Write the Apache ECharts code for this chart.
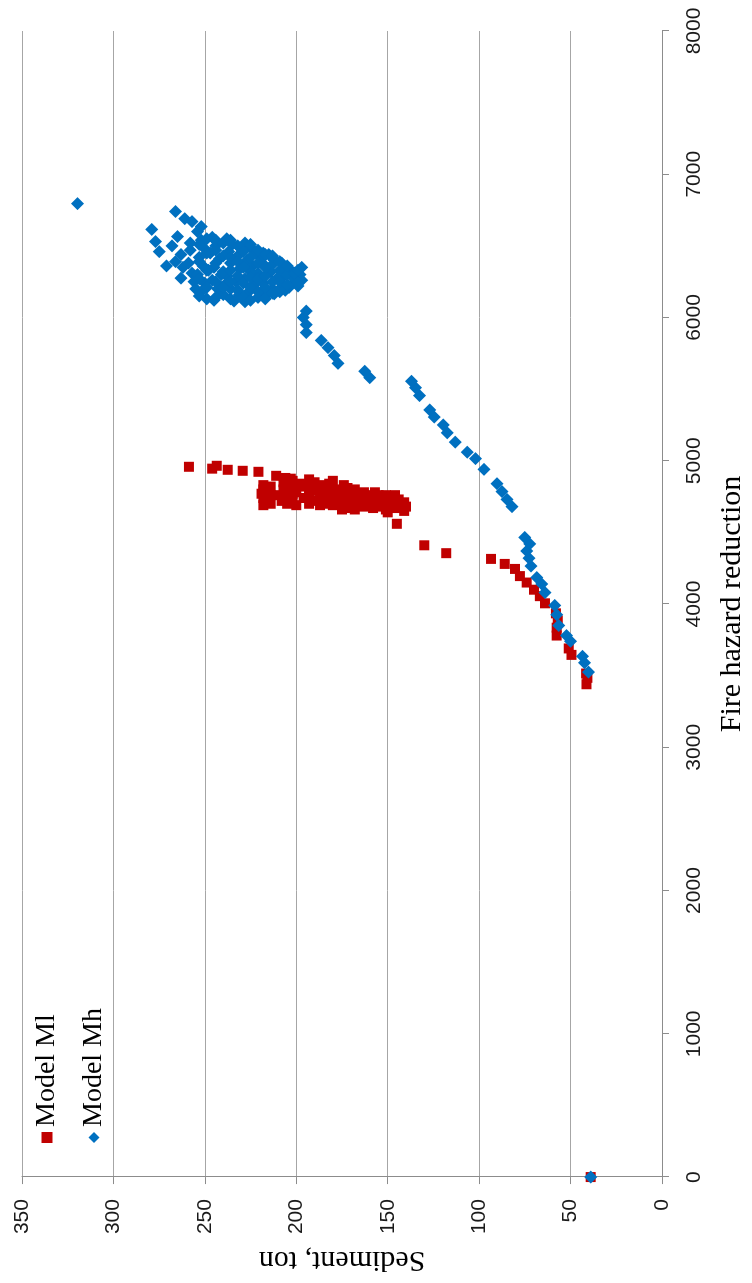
<!DOCTYPE html>
<html>
<head>
<meta charset="utf-8">
<script src="https://cdn.jsdelivr.net/npm/echarts@6/dist/echarts.min.js"></script>
<style>
  html, body { margin: 0; padding: 0; background: #ffffff; overflow: hidden; }
  #wrap { width: 752px; height: 1283px; position: relative; overflow: hidden; }
  /* the chart is laid out landscape and turned a quarter turn counter-clockwise */
  #chart {
    position: absolute; left: 0; top: 0;
    width: 1283px; height: 752px;
    transform-origin: 0 0;
    transform: translateY(1283px) rotate(-90deg);
  }
</style>
</head>
<body>
<div id="wrap"><div id="chart"></div></div>
<script>
// Axis ticks
const fireTicks = [0, 1000, 2000, 3000, 4000, 5000, 6000, 7000, 8000];
const sedimentTicks = [0, 50, 100, 150, 200, 250, 300, 350];

// Model Ml: sediment (ton) and fire hazard reduction
const mlSediment = [
  39,
  41.3, 40.8, 41.5, 49.5, 51, 57.6, 57.6, 57, 58, 64, 66.8, 70, 74, 77.7, 80.4, 86, 93.5, 118, 130,
  258.7, 246, 243.5, 237.5, 229.3, 220.7,
  218, 218, 219, 218, 217, 218,
  211, 206, 203, 210, 208, 205, 200, 198, 195, 200, 196,
  190, 186, 188, 185, 190, 183, 178, 180, 176, 177, 180, 175, 178,
  172, 170, 168, 172, 166, 170, 163, 160, 162, 165, 160, 158,
  155, 152, 155, 150, 153, 148, 146, 147, 145, 143, 140, 145, 150,
  214, 214, 214, 207, 207, 207, 202, 202, 202, 202,
  193, 193, 193, 193, 187, 187, 187, 182, 182, 182,
  174, 174, 174, 174, 168, 168, 168, 163, 163, 163,
  157, 157, 157, 151, 151, 151, 144, 144, 141, 141
];
const mlFire = [
  0,
  3440, 3485, 3515, 3645, 3690, 3780, 3835, 3885, 3935, 4005, 4055, 4100, 4150, 4195, 4245, 4280, 4315, 4355, 4410,
  4958, 4945, 4965, 4937, 4930, 4923,
  4830, 4800, 4770, 4740, 4710, 4690,
  4895, 4880, 4875, 4760, 4720, 4700, 4690, 4840, 4820, 4780, 4740,
  4850, 4830, 4790, 4760, 4720, 4700, 4800, 4860, 4770, 4740, 4690, 4660, 4710,
  4810, 4780, 4750, 4720, 4690, 4670, 4780, 4760, 4730, 4710, 4690, 4670,
  4760, 4740, 4715, 4700, 4680, 4720, 4760, 4690, 4670, 4700, 4680, 4560, 4640,
  4700, 4760, 4820, 4740, 4800, 4850, 4720, 4770, 4810, 4860,
  4700, 4760, 4800, 4870, 4690, 4740, 4810, 4730, 4780, 4840,
  4690, 4730, 4760, 4830, 4660, 4720, 4800, 4680, 4740, 4760,
  4700, 4740, 4780, 4660, 4720, 4760, 4690, 4730, 4710, 4650
];

// Model Mh: sediment (ton) and fire hazard reduction
const mhSediment = [
  39,
  40.2, 42.4, 43.5, 50, 52.2, 56.5, 57.6, 58.7, 64, 65.8, 68.5, 71.7, 72.8, 73.9, 72.3, 75,
  82, 84.8, 87.5, 90.2, 97.3, 102, 106.5, 113, 117.4, 119.6, 124.5, 127, 132.6, 134.8, 137,
  159.8, 162.5, 177.2, 179.3, 182.6, 186.4, 194.6, 194.6, 196.2, 194.6,
  319.6,
  279, 277, 275, 266, 261, 257, 252, 254, 265, 268, 263, 263, 262, 266, 258, 271,
  258, 259, 257, 256,
  252, 250, 253, 251, 254, 250, 252, 249, 255,
  246, 244, 247, 242, 245, 241, 246, 243, 240, 245, 248,
  238, 235, 237, 232, 236, 231, 238, 233, 236, 231, 234, 239,
  228, 225, 222, 227, 224, 221, 228, 223, 226, 221, 228, 225,
  218, 215, 212, 217, 214, 210, 218, 213, 216, 212, 219,
  208, 205, 203, 207, 201, 204, 209, 206,
  198, 197, 199, 197,
  253, 253, 253, 253, 249, 249, 249, 249,
  244, 244, 244, 244, 244, 240, 240, 240, 240,
  236, 236, 236, 236, 236, 232, 232, 232, 232,
  229, 229, 229, 229, 225, 225, 225, 225, 225,
  221, 221, 221, 221, 217, 217, 217, 217, 217,
  213, 213, 213, 213, 209, 209, 209, 209,
  205, 205, 205, 201, 201, 199, 199
];
const mhFire = [
  0,
  3525, 3590, 3635, 3740, 3780, 3850, 3925, 3990, 4080, 4140, 4185, 4265, 4320, 4370, 4420, 4465,
  4680, 4730, 4785, 4840, 4940, 5015, 5060, 5130, 5195, 5250, 5305, 5355, 5455, 5510, 5555,
  5580, 5625, 5680, 5735, 5790, 5840, 5895, 5950, 6000, 6045,
  6795,
  6615, 6530, 6460, 6740, 6690, 6670, 6635, 6600, 6565, 6500, 6440, 6275, 6350, 6390, 6470, 6360,
  6520, 6380, 6310, 6250,
  6540, 6480, 6420, 6360, 6300, 6240, 6180, 6130, 6200,
  6560, 6500, 6450, 6410, 6350, 6300, 6260, 6200, 6160, 6120, 6330,
  6550, 6510, 6460, 6430, 6380, 6340, 6290, 6250, 6200, 6160, 6115, 6230,
  6520, 6490, 6450, 6400, 6360, 6310, 6270, 6230, 6180, 6140, 6110, 6320,
  6450, 6440, 6400, 6360, 6320, 6280, 6240, 6200, 6160, 6165, 6410,
  6380, 6350, 6330, 6290, 6250, 6210, 6180, 6190,
  6300, 6260, 6220, 6350,
  6150, 6270, 6390, 6510, 6210, 6330, 6450, 6550,
  6140, 6250, 6380, 6470, 6540, 6210, 6320, 6430, 6520,
  6130, 6250, 6330, 6420, 6540, 6190, 6290, 6390, 6500,
  6140, 6240, 6350, 6460, 6120, 6210, 6280, 6420, 6510,
  6180, 6270, 6380, 6470, 6130, 6210, 6290, 6350, 6440,
  6170, 6250, 6370, 6430, 6200, 6250, 6330, 6390,
  6230, 6300, 6360, 6270, 6310, 6240, 6330
];

const pairs = (sed, fire) => sed.map((s, i) => [fire[i], s]);

const chart = echarts.init(document.getElementById('chart'), null, { renderer: 'canvas' });

const axisColor = '#8c8c8c';
const gridColor = '#a6a6a6';
const tickFont = { fontFamily: 'Liberation Sans', fontSize: 21, color: '#1a1a1a' };
const serif = 'Liberation Serif';

chart.setOption({
  animation: false,
  backgroundColor: '#ffffff',
  grid: { left: 97, right: 31, top: 22, bottom: 86, containLabel: false },
  legend: {
    orient: 'vertical',
    left: 135,
    top: 28,
    itemWidth: 11,
    itemHeight: 11,
    itemGap: 19,
    textStyle: { fontFamily: serif, fontSize: 28, lineHeight: 28, color: '#000000' },
    data: ['Model Ml', 'Model Mh']
  },
  xAxis: {
    type: 'value',
    min: fireTicks[0],
    max: fireTicks[fireTicks.length - 1],
    interval: fireTicks[1] - fireTicks[0],
    name: 'Fire hazard reduction',
    nameLocation: 'middle',
    nameGap: 55,
    nameTextStyle: { fontFamily: serif, fontSize: 30, color: '#000000' },
    axisLine: { show: true, onZero: false, lineStyle: { color: axisColor, width: 1 } },
    axisTick: { show: true, inside: false, length: 7, lineStyle: { color: axisColor } },
    axisLabel: { ...tickFont, margin: 22, formatter: (v) => String(v) },
    splitLine: { show: false }
  },
  yAxis: {
    type: 'value',
    min: sedimentTicks[0],
    max: sedimentTicks[sedimentTicks.length - 1],
    interval: sedimentTicks[1] - sedimentTicks[0],
    name: 'Sediment, ton',
    nameLocation: 'middle',
    nameGap: 66,
    nameRotate: 90,
    nameTextStyle: { fontFamily: serif, fontSize: 30, color: '#000000' },
    axisLine: { show: true, onZero: false, lineStyle: { color: axisColor, width: 1 } },
    axisTick: { show: true, inside: false, length: 7, lineStyle: { color: axisColor } },
    axisLabel: { ...tickFont, margin: 22 },
    splitLine: { show: true, lineStyle: { color: gridColor, width: 1 } }
  },
  series: [
    {
      name: 'Model Ml',
      type: 'scatter',
      symbol: 'rect',
      symbolSize: 10,
      itemStyle: { color: '#c00000', opacity: 1 },
      data: pairs(mlSediment, mlFire)
    },
    {
      name: 'Model Mh',
      type: 'scatter',
      symbol: 'diamond',
      symbolSize: 13,
      itemStyle: { color: '#0070c0', opacity: 1 },
      data: pairs(mhSediment, mhFire)
    }
  ]
});
</script>
</body>
</html>
